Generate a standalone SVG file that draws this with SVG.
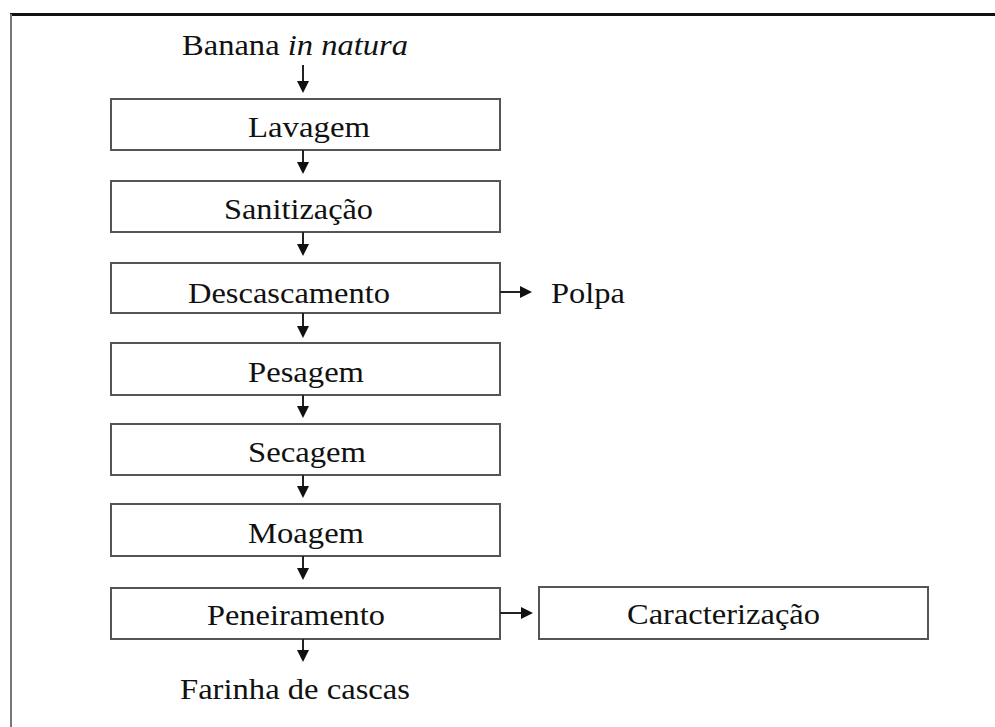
<svg xmlns="http://www.w3.org/2000/svg" width="995" height="727" viewBox="0 0 995 727">
<style>
.box{fill:#fff;stroke:#555;stroke-width:2}
.t{font-family:"Liberation Serif","Times New Roman",serif;font-size:29px;fill:#111}
.c{stroke:#222;stroke-width:2;fill:none}
.h{fill:#111}
</style>
<rect width="995" height="727" fill="#fff"/>
<g id="frame">
<line x1="10" y1="14.5" x2="995" y2="14.5" stroke="#111" stroke-width="3"/>
<line x1="11" y1="14" x2="11" y2="727" stroke="#777" stroke-width="2"/>
</g>
<g id="start"><text class="t" x="182" y="55" textLength="226" lengthAdjust="spacingAndGlyphs">Banana <tspan font-style="italic">in natura</tspan></text></g>
<g id="lavagem"><rect class="box" x="111" y="99" width="389" height="51"/><text class="t" x="248" y="137" textLength="122" lengthAdjust="spacingAndGlyphs">Lavagem</text></g>
<g id="sanitizacao"><rect class="box" x="111" y="181" width="389" height="51"/><text class="t" x="224" y="219" textLength="149" lengthAdjust="spacingAndGlyphs">Sanitização</text></g>
<g id="descascamento"><rect class="box" x="111" y="263" width="389" height="50"/><text class="t" x="188" y="303" textLength="202" lengthAdjust="spacingAndGlyphs">Descascamento</text></g>
<g id="polpa"><text class="t" x="551" y="303" textLength="74" lengthAdjust="spacingAndGlyphs">Polpa</text></g>
<g id="pesagem"><rect class="box" x="111" y="343" width="389" height="52"/><text class="t" x="248" y="382" textLength="116" lengthAdjust="spacingAndGlyphs">Pesagem</text></g>
<g id="secagem"><rect class="box" x="111" y="424" width="389" height="51"/><text class="t" x="248" y="462" textLength="118" lengthAdjust="spacingAndGlyphs">Secagem</text></g>
<g id="moagem"><rect class="box" x="111" y="504" width="389" height="52"/><text class="t" x="248" y="543" textLength="116" lengthAdjust="spacingAndGlyphs">Moagem</text></g>
<g id="peneiramento"><rect class="box" x="111" y="588" width="389" height="51"/><text class="t" x="207" y="625" textLength="178" lengthAdjust="spacingAndGlyphs">Peneiramento</text></g>
<g id="caracterizacao"><rect class="box" x="539" y="587" width="389" height="52"/><text class="t" x="627" y="624" textLength="193" lengthAdjust="spacingAndGlyphs">Caracterização</text></g>
<g id="farinha"><text class="t" x="180" y="699" textLength="230" lengthAdjust="spacingAndGlyphs">Farinha de cascas</text></g>
<g id="connectors">
<line class="c" x1="303" y1="65" x2="303" y2="84"/><polygon class="h" points="297,81 309,81 303,93"/>
<line class="c" x1="303" y1="150" x2="303" y2="165"/><polygon class="h" points="297,162 309,162 303,174"/>
<line class="c" x1="303" y1="232" x2="303" y2="247"/><polygon class="h" points="297,244 309,244 303,256"/>
<line class="c" x1="303" y1="313" x2="303" y2="329"/><polygon class="h" points="297,326 309,326 303,338"/>
<line class="c" x1="303" y1="395" x2="303" y2="409"/><polygon class="h" points="297,406 309,406 303,418"/>
<line class="c" x1="303" y1="475" x2="303" y2="489"/><polygon class="h" points="297,486 309,486 303,498"/>
<line class="c" x1="303" y1="556" x2="303" y2="571"/><polygon class="h" points="297,568 309,568 303,580"/>
<line class="c" x1="303" y1="639" x2="303" y2="653"/><polygon class="h" points="297,650 309,650 303,662"/>
<line class="c" x1="500" y1="292" x2="522" y2="292"/><polygon class="h" points="520,286 520,298 532,292"/>
<line class="c" x1="500" y1="613" x2="523" y2="613"/><polygon class="h" points="521,607 521,619 533,613"/>
</g>
</svg>
